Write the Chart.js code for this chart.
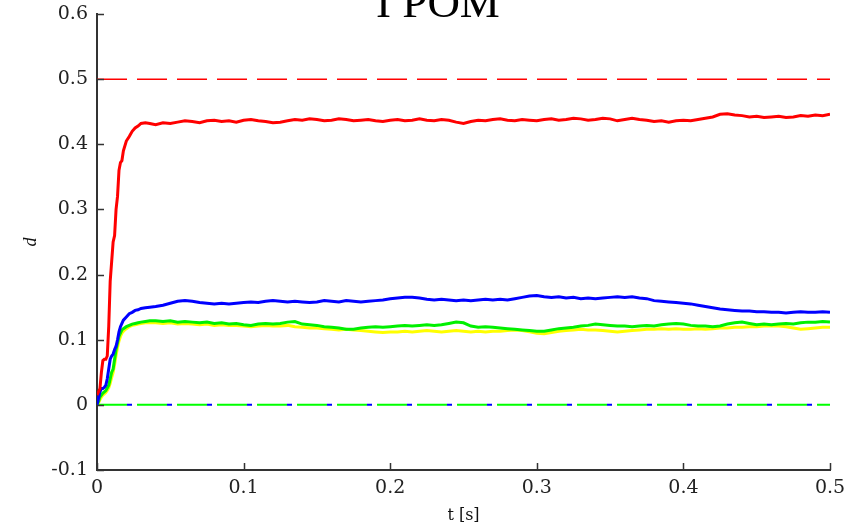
<!DOCTYPE html>
<html>
<head>
<meta charset="utf-8">
<title>I POM</title>
<script src="https://cdn.jsdelivr.net/npm/chart.js@4.4.1/dist/chart.umd.min.js"></script>
<style>
  html, body { margin: 0; padding: 0; background: #fff; }
  #wrap { width: 862px; height: 530px; }
</style>
</head>
<body>
<div id="wrap"><canvas id="dChart" width="862" height="530"></canvas></div>
<script>
// time axis [s]: fine steps through the start-up, then every 5 ms
var tSec = [
  0, 0.001, 0.002, 0.003, 0.004, 0.005, 0.006, 0.007, 0.008, 0.009,
  0.010, 0.011, 0.012, 0.013, 0.014, 0.015, 0.016, 0.017, 0.018, 0.020,
  0.022, 0.024, 0.026, 0.028, 0.030, 0.033, 0.036,
  0.040, 0.045, 0.050, 0.055, 0.060, 0.065, 0.070, 0.075, 0.080, 0.085,
  0.090, 0.095, 0.100, 0.105, 0.110, 0.115, 0.120, 0.125, 0.130, 0.135,
  0.140, 0.145, 0.150, 0.155, 0.160, 0.165, 0.170, 0.175, 0.180, 0.185,
  0.190, 0.195, 0.200, 0.205, 0.210, 0.215, 0.220, 0.225, 0.230, 0.235,
  0.240, 0.245, 0.250, 0.255, 0.260, 0.265, 0.270, 0.275, 0.280, 0.285,
  0.290, 0.295, 0.300, 0.305, 0.310, 0.315, 0.320, 0.325, 0.330, 0.335,
  0.340, 0.345, 0.350, 0.355, 0.360, 0.365, 0.370, 0.375, 0.380, 0.385,
  0.390, 0.395, 0.400, 0.405, 0.410, 0.415, 0.420, 0.425, 0.430, 0.435,
  0.440, 0.445, 0.450, 0.455, 0.460, 0.465, 0.470, 0.475, 0.480, 0.485,
  0.490, 0.495, 0.500
];

var dRed = [
  0.015, 0.020, 0.025, 0.050, 0.068, 0.070, 0.070, 0.075, 0.120, 0.190,
  0.220, 0.250, 0.260, 0.300, 0.320, 0.360, 0.372, 0.375, 0.390, 0.405,
  0.412, 0.420, 0.425, 0.428, 0.432, 0.433, 0.432,
  0.430, 0.433, 0.432, 0.434, 0.436, 0.435, 0.433, 0.436, 0.437, 0.435,
  0.436, 0.434, 0.437, 0.438, 0.436, 0.435, 0.433, 0.434, 0.436, 0.438,
  0.437, 0.439, 0.438, 0.436, 0.437, 0.439, 0.438, 0.436, 0.437, 0.438,
  0.436, 0.435, 0.437, 0.438, 0.436, 0.437, 0.439, 0.437, 0.436, 0.438,
  0.437, 0.434, 0.432, 0.435, 0.437, 0.436, 0.438, 0.439, 0.437, 0.436,
  0.438, 0.437, 0.436, 0.438, 0.439, 0.437, 0.438, 0.440, 0.439, 0.437,
  0.438, 0.440, 0.439, 0.436, 0.438, 0.440, 0.438, 0.437, 0.435, 0.436,
  0.434, 0.436, 0.437, 0.436, 0.438, 0.440, 0.442, 0.446, 0.447, 0.445,
  0.444, 0.442, 0.443, 0.441, 0.442, 0.443, 0.441, 0.442, 0.444, 0.443,
  0.445, 0.444, 0.446
];

var dBlue = [
  0.000, 0.010, 0.020, 0.025, 0.025, 0.027, 0.030, 0.040, 0.055, 0.070,
  0.075, 0.078, 0.085, 0.090, 0.100, 0.112, 0.120, 0.125, 0.130, 0.135,
  0.140, 0.142, 0.145, 0.146, 0.148, 0.149, 0.150,
  0.151, 0.153, 0.156, 0.159, 0.160, 0.159, 0.157, 0.156, 0.155, 0.156,
  0.155, 0.156, 0.157, 0.158, 0.157, 0.159, 0.160, 0.159, 0.158, 0.159,
  0.158, 0.157, 0.158, 0.160, 0.159, 0.158, 0.160, 0.159, 0.158, 0.159,
  0.160, 0.161, 0.163, 0.164, 0.165, 0.165, 0.164, 0.162, 0.161, 0.162,
  0.161, 0.160, 0.161, 0.160, 0.161, 0.162, 0.161, 0.162, 0.161, 0.163,
  0.165, 0.167, 0.168, 0.166, 0.165, 0.166, 0.164, 0.165, 0.163, 0.164,
  0.163, 0.164, 0.165, 0.166, 0.165, 0.166, 0.164, 0.163, 0.160, 0.159,
  0.158, 0.157, 0.156, 0.155, 0.153, 0.151, 0.149, 0.147, 0.146, 0.145,
  0.144, 0.144, 0.143, 0.143, 0.142, 0.142, 0.141, 0.142, 0.143, 0.142,
  0.142, 0.143, 0.142
];

var dGreen = [
  0.000, 0.005, 0.012, 0.015, 0.018, 0.020, 0.022, 0.026, 0.030, 0.040,
  0.050, 0.055, 0.070, 0.085, 0.095, 0.105, 0.110, 0.115, 0.117, 0.120,
  0.122, 0.124, 0.125, 0.126, 0.127, 0.128, 0.129,
  0.129, 0.128, 0.129, 0.127, 0.128, 0.127, 0.126, 0.127, 0.125, 0.126,
  0.124, 0.125, 0.123, 0.122, 0.124, 0.125, 0.124, 0.125, 0.127, 0.128,
  0.124, 0.123, 0.122, 0.120, 0.119, 0.118, 0.116, 0.116, 0.118, 0.119,
  0.120, 0.119, 0.120, 0.121, 0.122, 0.121, 0.122, 0.123, 0.122, 0.123,
  0.125, 0.127, 0.126, 0.121, 0.119, 0.120, 0.119, 0.118, 0.117, 0.116,
  0.115, 0.114, 0.113, 0.113, 0.115, 0.117, 0.118, 0.119, 0.121, 0.122,
  0.124, 0.123, 0.122, 0.121, 0.121, 0.120, 0.121, 0.122, 0.121, 0.123,
  0.124, 0.125, 0.124, 0.122, 0.121, 0.121, 0.120, 0.121, 0.124, 0.126,
  0.127, 0.125, 0.123, 0.124, 0.123, 0.124, 0.125, 0.124, 0.126, 0.127,
  0.127, 0.128, 0.127
];

var dYellow = [
  0.000, 0.003, 0.008, 0.012, 0.015, 0.017, 0.019, 0.022, 0.026, 0.033,
  0.042, 0.050, 0.062, 0.076, 0.088, 0.098, 0.105, 0.110, 0.113, 0.117,
  0.120, 0.122, 0.123, 0.124, 0.125, 0.126, 0.126,
  0.126, 0.125, 0.126, 0.124, 0.125, 0.124, 0.123, 0.124, 0.122, 0.123,
  0.122, 0.122, 0.121, 0.120, 0.121, 0.122, 0.121, 0.121, 0.122, 0.120,
  0.119, 0.118, 0.118, 0.117, 0.116, 0.115, 0.116, 0.115, 0.114, 0.113,
  0.112, 0.111, 0.112, 0.112, 0.113, 0.112, 0.113, 0.114, 0.113, 0.112,
  0.113, 0.114, 0.113, 0.112, 0.113, 0.112, 0.113, 0.113, 0.114, 0.115,
  0.114, 0.112, 0.110, 0.109, 0.111, 0.113, 0.114, 0.115, 0.116, 0.115,
  0.115, 0.114, 0.113, 0.112, 0.113, 0.114, 0.115, 0.116, 0.116, 0.117,
  0.116, 0.117, 0.116, 0.116, 0.117, 0.116, 0.117, 0.118, 0.118, 0.119,
  0.119, 0.120, 0.120, 0.121, 0.121, 0.121, 0.120, 0.118, 0.116, 0.117,
  0.118, 0.119, 0.119
];

// dashed reference levels
var refTop = 0.5;
var refZero = 0;
var tRange = [0, 0.5];
var yRange = [-0.1, 0.6];

function toPoints(ys) {
  return tSec.map(function(t, i) { return { x: t, y: ys[i] }; });
}
function flatLine(v) {
  return tRange.map(function(t) { return { x: t, y: v }; });
}
function fmt(v) {
  return String(Number(v.toFixed(1)));
}

// matlab-style ticks pointing into the plot
var innerTicks = {
  id: 'innerTicks',
  afterDatasetsDraw: function(chart) {
    var ctx = chart.ctx, a = chart.chartArea;
    var xs = chart.scales.x, ys = chart.scales.y;
    ctx.save();
    ctx.strokeStyle = '#333';
    ctx.lineWidth = 1.5;
    ctx.beginPath();
    ys.ticks.forEach(function(tk) {
      var py = Math.round(ys.getPixelForValue(tk.value)) + 0.5;
      ctx.moveTo(a.left, py);
      ctx.lineTo(a.left + 7, py);
    });
    xs.ticks.forEach(function(tk) {
      var px = Math.round(xs.getPixelForValue(tk.value)) + 0.5;
      ctx.moveTo(px, a.bottom);
      ctx.lineTo(px, a.bottom - 7);
    });
    ctx.stroke();
    ctx.restore();
  }
};

// big serif heading, sits partly above the canvas edge
var heading = {
  id: 'heading',
  afterDraw: function(chart) {
    var ctx = chart.ctx;
    ctx.save();
    ctx.fillStyle = '#000';
    ctx.font = '45px "Liberation Serif", serif';
    ctx.textAlign = 'center';
    ctx.textBaseline = 'alphabetic';
    ctx.fillText('I POM', 438, 17);
    ctx.restore();
  }
};

var tickFont = { family: '"DejaVu Serif", serif', size: 19 };

new Chart(document.getElementById('dChart'), {
  type: 'line',
  data: {
    datasets: [
      { label: 'ref 0.5', data: flatLine(refTop), borderColor: '#ff0000', borderWidth: 1.5, borderDash: [30, 10], order: 6 },
      { label: 'ref 0 (b)', data: flatLine(refZero), borderColor: '#0000ff', borderWidth: 2, borderDash: [5, 35], borderDashOffset: -30, order: 7 },
      { label: 'ref 0 (g)', data: flatLine(refZero), borderColor: '#00ff00', borderWidth: 2, borderDash: [30, 10], order: 5 },
      { label: 'yellow', data: toPoints(dYellow), borderColor: '#ffff00', borderWidth: 3, order: 4 },
      { label: 'green', data: toPoints(dGreen), borderColor: '#00f000', borderWidth: 3, order: 3 },
      { label: 'blue', data: toPoints(dBlue), borderColor: '#0000ff', borderWidth: 3, order: 2 },
      { label: 'red', data: toPoints(dRed), borderColor: '#ff0000', borderWidth: 3, order: 1 }
    ]
  },
  options: {
    responsive: false,
    animation: false,
    parsing: false,
    layout: { padding: { top: 14, right: 32, left: 0, bottom: 0 } },
    elements: { point: { radius: 0 }, line: { tension: 0 } },
    plugins: { legend: { display: false }, tooltip: { enabled: false } },
    scales: {
      x: {
        type: 'linear',
        min: tRange[0], max: tRange[1],
        afterFit: function(s) {
          s.height = 60;
          s.paddingLeft = 0;
          s.paddingRight = 0;
        },
        grid: { drawOnChartArea: false, drawTicks: false },
        border: { color: '#333', width: 2 },
        ticks: { stepSize: 0.1, padding: 7, color: '#222', font: tickFont, maxRotation: 0, callback: fmt },
        title: { display: true, text: 't [s]', color: '#111', font: { family: '"DejaVu Serif", serif', size: 16 }, padding: { bottom: 5 } }
      },
      y: {
        type: 'linear',
        min: yRange[0], max: yRange[1],
        afterFit: function(s) {
          s.width = 97;
          s.paddingTop = 0;
          s.paddingBottom = 0;
        },
        grid: { drawOnChartArea: false, drawTicks: false },
        border: { color: '#333', width: 2 },
        ticks: { stepSize: 0.1, padding: 9, color: '#222', font: tickFont, callback: fmt },
        title: { display: true, text: 'd', color: '#111', font: { family: '"Liberation Serif", serif', size: 18, style: 'italic' }, padding: { top: 20 } }
      }
    }
  },
  plugins: [innerTicks, heading]
});
</script>
</body>
</html>
